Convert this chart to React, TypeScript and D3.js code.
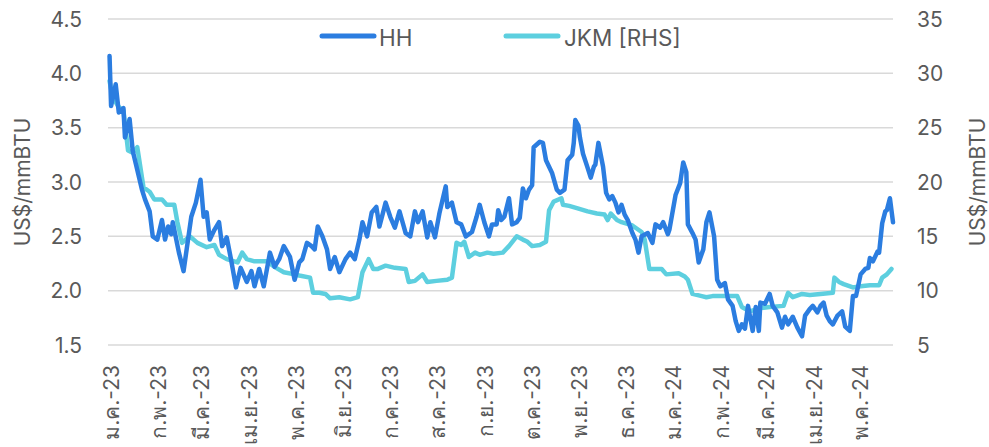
import * as d3 from 'd3';

// Thai month labels, Jan-23 .. May-24
const monthLabels = [
  'ม.ค.-23', 'ก.พ.-23', 'มี.ค.-23', 'เม.ย.-23', 'พ.ค.-23', 'มิ.ย.-23',
  'ก.ค.-23', 'ส.ค.-23', 'ก.ย.-23', 'ต.ค.-23', 'พ.ย.-23', 'ธ.ค.-23',
  'ม.ค.-24', 'ก.พ.-24', 'มี.ค.-24', 'เม.ย.-24', 'พ.ค.-24',
];

const leftTicks = [1.5, 2.0, 2.5, 3.0, 3.5, 4.0, 4.5];
const rightTicks = [5, 10, 15, 20, 25, 30, 35];

// Henry Hub, US$/mmBTU (left axis)
const hhSeries: [string, number][] = [
  ['2023-01-02', 4.16], ['2023-01-03', 3.70], ['2023-01-06', 3.90], ['2023-01-08', 3.64],
  ['2023-01-11', 3.68], ['2023-01-12', 3.41], ['2023-01-15', 3.58], ['2023-01-17', 3.29],
  ['2023-01-19', 3.17], ['2023-01-23', 2.93], ['2023-01-25', 2.84], ['2023-01-28', 2.73],
  ['2023-01-30', 2.50], ['2023-02-02', 2.47], ['2023-02-05', 2.65], ['2023-02-07', 2.47],
  ['2023-02-09', 2.59], ['2023-02-11', 2.52], ['2023-02-12', 2.63], ['2023-02-16', 2.35],
  ['2023-02-19', 2.18], ['2023-02-24', 2.68], ['2023-02-27', 2.81], ['2023-03-02', 3.02],
  ['2023-03-04', 2.68], ['2023-03-06', 2.72], ['2023-03-08', 2.47], ['2023-03-11', 2.56],
  ['2023-03-14', 2.63], ['2023-03-16', 2.41], ['2023-03-19', 2.49], ['2023-03-22', 2.27],
  ['2023-03-25', 2.03], ['2023-03-28', 2.21], ['2023-04-01', 2.08], ['2023-04-04', 2.18],
  ['2023-04-06', 2.04], ['2023-04-09', 2.20], ['2023-04-12', 2.04], ['2023-04-16', 2.35],
  ['2023-04-19', 2.22], ['2023-04-22', 2.29], ['2023-04-25', 2.41], ['2023-04-29', 2.31],
  ['2023-05-01', 2.17], ['2023-05-02', 2.10], ['2023-05-05', 2.26], ['2023-05-07', 2.29],
  ['2023-05-10', 2.44], ['2023-05-13', 2.41], ['2023-05-15', 2.38], ['2023-05-17', 2.59],
  ['2023-05-20', 2.50], ['2023-05-23', 2.38], ['2023-05-25', 2.20], ['2023-05-28', 2.31],
  ['2023-05-31', 2.17], ['2023-06-04', 2.29], ['2023-06-07', 2.35], ['2023-06-10', 2.29],
  ['2023-06-13', 2.47], ['2023-06-15', 2.63], ['2023-06-18', 2.50], ['2023-06-21', 2.72],
  ['2023-06-24', 2.77], ['2023-06-26', 2.59], ['2023-06-30', 2.81], ['2023-07-03', 2.68],
  ['2023-07-06', 2.58], ['2023-07-09', 2.73], ['2023-07-13', 2.53], ['2023-07-16', 2.50],
  ['2023-07-19', 2.73], ['2023-07-21', 2.63], ['2023-07-24', 2.73], ['2023-07-27', 2.49],
  ['2023-07-29', 2.63], ['2023-08-01', 2.49], ['2023-08-04', 2.72], ['2023-08-08', 2.96],
  ['2023-08-09', 2.77], ['2023-08-12', 2.81], ['2023-08-15', 2.63], ['2023-08-18', 2.61],
  ['2023-08-21', 2.50], ['2023-08-25', 2.54], ['2023-08-28', 2.68], ['2023-08-30', 2.79],
  ['2023-09-02', 2.63], ['2023-09-05', 2.50], ['2023-09-07', 2.61], ['2023-09-10', 2.61],
  ['2023-09-11', 2.74], ['2023-09-13', 2.65], ['2023-09-15', 2.68], ['2023-09-18', 2.85],
  ['2023-09-20', 2.61], ['2023-09-23', 2.63], ['2023-09-25', 2.67], ['2023-09-27', 2.94],
  ['2023-09-29', 2.85], ['2023-10-01', 2.93], ['2023-10-03', 2.97], ['2023-10-04', 3.32],
  ['2023-10-08', 3.37], ['2023-10-10', 3.36], ['2023-10-12', 3.20], ['2023-10-14', 3.14],
  ['2023-10-16', 3.08], ['2023-10-19', 2.93], ['2023-10-21', 2.90], ['2023-10-24', 2.93],
  ['2023-10-26', 3.20], ['2023-10-29', 3.25], ['2023-10-30', 3.36], ['2023-10-31', 3.57],
  ['2023-11-02', 3.52], ['2023-11-03', 3.41], ['2023-11-05', 3.26], ['2023-11-08', 3.13],
  ['2023-11-10', 3.04], ['2023-11-12', 3.14], ['2023-11-13', 3.16], ['2023-11-15', 3.36],
  ['2023-11-18', 3.14], ['2023-11-20', 2.90], ['2023-11-22', 2.84], ['2023-11-24', 2.87],
  ['2023-11-26', 2.81], ['2023-11-28', 2.72], ['2023-11-30', 2.79], ['2023-12-02', 2.70],
  ['2023-12-04', 2.65], ['2023-12-07', 2.53], ['2023-12-09', 2.47], ['2023-12-11', 2.35],
  ['2023-12-13', 2.50], ['2023-12-17', 2.53], ['2023-12-20', 2.44], ['2023-12-22', 2.61],
  ['2023-12-25', 2.58], ['2023-12-27', 2.63], ['2023-12-30', 2.52], ['2023-12-31', 2.56],
  ['2024-01-04', 2.88], ['2024-01-07', 2.99], ['2024-01-09', 3.18], ['2024-01-11', 3.09],
  ['2024-01-12', 2.61], ['2024-01-15', 2.53], ['2024-01-17', 2.47], ['2024-01-19', 2.26],
  ['2024-01-22', 2.38], ['2024-01-24', 2.63], ['2024-01-26', 2.72], ['2024-01-29', 2.50],
  ['2024-01-31', 2.10], ['2024-02-02', 2.04], ['2024-02-05', 2.07], ['2024-02-07', 1.92],
  ['2024-02-10', 1.86], ['2024-02-12', 1.72], ['2024-02-14', 1.63], ['2024-02-16', 1.69],
  ['2024-02-18', 1.65], ['2024-02-20', 1.86], ['2024-02-23', 1.63], ['2024-02-25', 1.85],
  ['2024-02-27', 1.63], ['2024-02-28', 1.89], ['2024-03-02', 1.88], ['2024-03-05', 1.97],
  ['2024-03-07', 1.86], ['2024-03-10', 1.80], ['2024-03-13', 1.66], ['2024-03-15', 1.76],
  ['2024-03-17', 1.69], ['2024-03-20', 1.76], ['2024-03-23', 1.66], ['2024-03-26', 1.58],
  ['2024-03-28', 1.77], ['2024-03-31', 1.83], ['2024-04-02', 1.86], ['2024-04-05', 1.80],
  ['2024-04-07', 1.86], ['2024-04-09', 1.89], ['2024-04-11', 1.77], ['2024-04-13', 1.72],
  ['2024-04-15', 1.69], ['2024-04-18', 1.77], ['2024-04-21', 1.81], ['2024-04-23', 1.67],
  ['2024-04-26', 1.63], ['2024-04-28', 1.95], ['2024-04-30', 1.95], ['2024-05-03', 2.15],
  ['2024-05-06', 2.20], ['2024-05-08', 2.21], ['2024-05-09', 2.30], ['2024-05-11', 2.27],
  ['2024-05-14', 2.36], ['2024-05-15', 2.35], ['2024-05-17', 2.62], ['2024-05-19', 2.73],
  ['2024-05-20', 2.74], ['2024-05-22', 2.85], ['2024-05-24', 2.63],
];

// JKM, US$/mmBTU (right axis)
const jkmSeries: [string, number][] = [
  ['2023-01-02', 29.3], ['2023-01-04', 27.8], ['2023-01-08', 26.9], ['2023-01-11', 26.6],
  ['2023-01-14', 22.9], ['2023-01-17', 22.7], ['2023-01-20', 23.2], ['2023-01-24', 19.5],
  ['2023-01-28', 19.1], ['2023-01-31', 18.4], ['2023-02-05', 18.4], ['2023-02-08', 17.9],
  ['2023-02-13', 17.9], ['2023-02-15', 16.3], ['2023-02-18', 14.4], ['2023-02-23', 15.0],
  ['2023-02-28', 14.4], ['2023-03-06', 14.0], ['2023-03-11', 14.2], ['2023-03-14', 13.3],
  ['2023-03-19', 12.9], ['2023-03-26', 12.6], ['2023-03-29', 13.5], ['2023-04-01', 12.9],
  ['2023-04-06', 12.7], ['2023-04-14', 12.7], ['2023-04-20', 12.1], ['2023-04-25', 11.7],
  ['2023-05-02', 11.5], ['2023-05-05', 11.4], ['2023-05-12', 11.2], ['2023-05-14', 9.8],
  ['2023-05-18', 9.8], ['2023-05-22', 9.7], ['2023-05-25', 9.3], ['2023-05-31', 9.4],
  ['2023-06-07', 9.2], ['2023-06-12', 9.4], ['2023-06-15', 11.7], ['2023-06-19', 12.9],
  ['2023-06-22', 12.0], ['2023-06-25', 12.0], ['2023-06-30', 12.3], ['2023-07-06', 12.1],
  ['2023-07-13', 12.0], ['2023-07-15', 10.8], ['2023-07-19', 10.9], ['2023-07-24', 11.5],
  ['2023-07-27', 10.8], ['2023-08-02', 10.9], ['2023-08-09', 11.0], ['2023-08-12', 11.2],
  ['2023-08-15', 14.4], ['2023-08-18', 14.2], ['2023-08-20', 14.5], ['2023-08-23', 13.1],
  ['2023-08-27', 13.5], ['2023-08-30', 13.3], ['2023-09-04', 13.5], ['2023-09-08', 13.4],
  ['2023-09-14', 13.5], ['2023-09-18', 14.1], ['2023-09-23', 15.0], ['2023-09-27', 14.7],
  ['2023-09-30', 14.5], ['2023-10-03', 14.1], ['2023-10-08', 14.2], ['2023-10-12', 14.5],
  ['2023-10-14', 17.4], ['2023-10-17', 18.2], ['2023-10-22', 18.5], ['2023-10-23', 17.9],
  ['2023-10-27', 17.8], ['2023-11-01', 17.6], ['2023-11-08', 17.3], ['2023-11-14', 17.1],
  ['2023-11-19', 17.0], ['2023-11-21', 16.5], ['2023-11-23', 17.1], ['2023-11-27', 16.5],
  ['2023-11-30', 16.3], ['2023-12-07', 16.0], ['2023-12-13', 15.4], ['2023-12-15', 14.7],
  ['2023-12-18', 12.0], ['2023-12-26', 12.0], ['2023-12-29', 11.5], ['2024-01-06', 11.6],
  ['2024-01-10', 11.3], ['2024-01-12', 11.0], ['2024-01-15', 9.7], ['2024-01-21', 9.5],
  ['2024-01-24', 9.4], ['2024-01-28', 9.5], ['2024-02-06', 9.5], ['2024-02-13', 9.5],
  ['2024-02-16', 8.5], ['2024-02-21', 8.1], ['2024-02-28', 8.4], ['2024-03-05', 8.5],
  ['2024-03-14', 8.6], ['2024-03-17', 9.8], ['2024-03-20', 9.4], ['2024-03-26', 9.7],
  ['2024-03-31', 9.6], ['2024-04-07', 9.7], ['2024-04-15', 9.8], ['2024-04-16', 11.2],
  ['2024-04-19', 10.8], ['2024-04-22', 10.6], ['2024-04-28', 10.3], ['2024-05-03', 10.4],
  ['2024-05-09', 10.5], ['2024-05-15', 10.5], ['2024-05-17', 11.2], ['2024-05-20', 11.5],
  ['2024-05-23', 12.0],
];

const HH_COLOR = '#2b7de0';
const JKM_COLOR = '#5dcfdf';
const TEXT_COLOR = '#595959';
const FONT = "Inter, 'Noto Sans', 'DejaVu Sans', sans-serif";

export default function App() {
  const width = 989;
  const height = 447;
  const plot = { left: 108, right: 893, top: 19, bottom: 345 };

  const parse = d3.timeParse('%Y-%m-%d');
  const x = d3.scaleTime()
    .domain([new Date(2023, 0, 1), new Date(2024, 4, 24)])
    .range([plot.left, plot.right]);
  const yLeft = d3.scaleLinear().domain([1.5, 4.5]).range([plot.bottom, plot.top]);
  const yRight = d3.scaleLinear().domain([5, 35]).range([plot.bottom, plot.top]);

  const hhLine = d3.line<[string, number]>()
    .x(d => x(parse(d[0])!))
    .y(d => yLeft(d[1]));
  const jkmLine = d3.line<[string, number]>()
    .x(d => x(parse(d[0])!))
    .y(d => yRight(d[1]));

  const months = d3.timeMonth.range(new Date(2023, 0, 1), new Date(2024, 5, 1));
  const midY = (plot.top + plot.bottom) / 2;

  return (
    <svg
      width={width}
      height={height}
      style={{ position: 'absolute', left: 0, top: 0, background: '#fff' }}
      fontFamily={FONT}
    >
      {/* gridlines */}
      {leftTicks.map(t => (
        <line key={t} x1={plot.left} x2={plot.right} y1={yLeft(t)} y2={yLeft(t)}
          stroke="#d9d9d9" strokeWidth={1.5} />
      ))}

      {/* left axis labels */}
      {leftTicks.map(t => (
        <text key={'l' + t} x={82} y={yLeft(t)} textAnchor="end" dominantBaseline="central"
          fontSize={21} fill={TEXT_COLOR}>{t.toFixed(1)}</text>
      ))}
      {/* right axis labels */}
      {rightTicks.map(t => (
        <text key={'r' + t} x={917} y={yRight(t)} textAnchor="start" dominantBaseline="central"
          fontSize={21} fill={TEXT_COLOR}>{t}</text>
      ))}

      {/* axis titles */}
      <text transform={`translate(22,${midY}) rotate(-90)`} textAnchor="middle"
        dominantBaseline="central" fontSize={21} fill={TEXT_COLOR}>US$/mmBTU</text>
      <text transform={`translate(977,${midY}) rotate(-90)`} textAnchor="middle"
        dominantBaseline="central" fontSize={21} fill={TEXT_COLOR}>US$/mmBTU</text>

      {/* x axis month labels */}
      {months.map((m, i) => (
        <text key={'m' + i} transform={`translate(${x(m) + 3},365) rotate(-90)`}
          textAnchor="end" dominantBaseline="central" fontSize={21} fill={TEXT_COLOR}>
          {monthLabels[i]}
        </text>
      ))}

      {/* series */}
      <path d={jkmLine(jkmSeries) ?? ''} fill="none" stroke={JKM_COLOR} strokeWidth={4.5}
        strokeLinejoin="round" strokeLinecap="round" />
      <path d={hhLine(hhSeries) ?? ''} fill="none" stroke={HH_COLOR} strokeWidth={4.5}
        strokeLinejoin="round" strokeLinecap="round" />

      {/* legend */}
      <line x1={322} x2={374} y1={36} y2={36} stroke={HH_COLOR} strokeWidth={5} strokeLinecap="round" />
      <text x={379} y={37} dominantBaseline="central" fontSize={22.5} fill={TEXT_COLOR}>HH</text>
      <line x1={506} x2={558} y1={36} y2={36} stroke={JKM_COLOR} strokeWidth={5} strokeLinecap="round" />
      <text x={564} y={37} dominantBaseline="central" fontSize={22.5} fill={TEXT_COLOR}>JKM [RHS]</text>
    </svg>
  );
}
